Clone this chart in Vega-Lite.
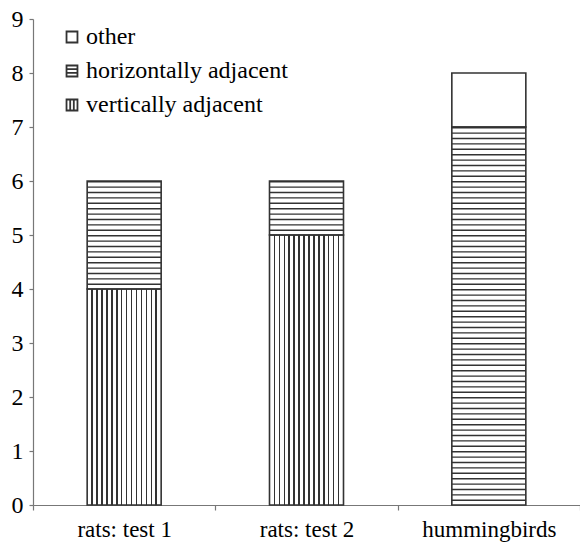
{
  "$schema": "https://vega.github.io/schema/vega-lite/v6.json",
  "width": 547,
  "height": 486,
  "autosize": "none",
  "padding": {"left": 33, "top": 19, "right": 0, "bottom": 38},
  "background": "white",
  "data": {
    "values": [
      {"group": "rats: test 1", "type": "vertically adjacent", "count": 4},
      {"group": "rats: test 1", "type": "horizontally adjacent", "count": 2},
      {"group": "rats: test 2", "type": "vertically adjacent", "count": 5},
      {"group": "rats: test 2", "type": "horizontally adjacent", "count": 1},
      {"group": "hummingbirds", "type": "horizontally adjacent", "count": 7},
      {"group": "hummingbirds", "type": "other", "count": 1}
    ]
  },
  "transform": [
    {"calculate": "indexof(['vertically adjacent','horizontally adjacent','other'], datum.type)", "as": "ord"},
    {"stack": "count", "groupby": ["group"], "sort": [{"field": "ord", "order": "ascending"}], "as": ["y0", "y1"]}
  ],
  "layer": [
    {
      "mark": {"type": "bar", "width": 74, "stroke": null},
      "encoding": {
        "x": {
          "field": "group", "type": "nominal", "sort": ["rats: test 1", "rats: test 2", "hummingbirds"],
          "scale": {"paddingInner": 0, "paddingOuter": 0},
          "axis": {"title": null, "labelAngle": 0, "tickBand": "extent", "tickSize": 5, "labelPadding": 8,
                   "labelFont": "Liberation Serif", "labelFontSize": 23, "labelColor": "black",
                   "domainColor": "#777", "tickColor": "#777", "domainWidth": 1.2, "tickWidth": 1.2}
        },
        "y": {
          "field": "y0", "type": "quantitative",
          "scale": {"domain": [0, 9], "nice": false},
          "axis": {"title": null, "values": [0,1,2,3,4,5,6,7,8,9], "format": "d", "grid": false, "tickSize": 4, "labelPadding": 6,
                   "labelFont": "Liberation Serif", "labelFontSize": 24, "labelColor": "black",
                   "domainColor": "#777", "tickColor": "#777", "domainWidth": 1.2, "tickWidth": 1.2}
        },
        "y2": {"field": "y1"},
        "fill": {
          "field": "type", "type": "nominal",
          "scale": {"domain": ["other", "horizontally adjacent", "vertically adjacent"], "range": ["white", "white", "white"]},
          "legend": {
            "title": null, "orient": "none", "legendX": 27, "legendY": 6,
            "labelFont": "Liberation Serif", "labelFontSize": 24, "labelColor": "black", "labelLimit": 400,
            "labelOffset": 2, "rowPadding": 10, "symbolSize": 120, "symbolStrokeWidth": 1.8, "symbolStrokeColor": "#333",
            "encode": {
              "labels": {"update": {"font": {"value": "Liberation Serif"}}},
              "symbols": {
                "update": {
                  "stroke": {"value": "#333"},
                  "strokeWidth": {"value": 1.8},
                  "shape": {"signal": "datum.value === 'other' ? 'square' : (datum.value === 'horizontally adjacent' ? 'M-1,-1H1V1H-1Z M-1,-0.33H1 M-1,0.33H1' : 'M-1,-1H1V1H-1Z M-0.33,-1V1 M0.33,-1V1')"}
                }
              }
            }
          }
        }
      }
    },
    {
      "transform": [{"filter": "datum.type === 'vertically adjacent'"}],
      "mark": {
        "type": "bar", "width": 74, "stroke": null,
        "fill": {
          "gradient": "linear", "x1": 0, "y1": 0, "x2": 1, "y2": 0,
          "stops": [
            {"offset": 0, "color": "#fff"},
            {"offset": 0.0567, "color": "#fff"}, {"offset": 0.0567, "color": "#333"}, {"offset": 0.0767, "color": "#333"}, {"offset": 0.0767, "color": "#fff"},
            {"offset": 0.1233, "color": "#fff"}, {"offset": 0.1233, "color": "#333"}, {"offset": 0.1433, "color": "#333"}, {"offset": 0.1433, "color": "#fff"},
            {"offset": 0.19, "color": "#fff"}, {"offset": 0.19, "color": "#333"}, {"offset": 0.21, "color": "#333"}, {"offset": 0.21, "color": "#fff"},
            {"offset": 0.2567, "color": "#fff"}, {"offset": 0.2567, "color": "#333"}, {"offset": 0.2767, "color": "#333"}, {"offset": 0.2767, "color": "#fff"},
            {"offset": 0.3233, "color": "#fff"}, {"offset": 0.3233, "color": "#333"}, {"offset": 0.3433, "color": "#333"}, {"offset": 0.3433, "color": "#fff"},
            {"offset": 0.39, "color": "#fff"}, {"offset": 0.39, "color": "#333"}, {"offset": 0.41, "color": "#333"}, {"offset": 0.41, "color": "#fff"},
            {"offset": 0.4567, "color": "#fff"}, {"offset": 0.4567, "color": "#333"}, {"offset": 0.4767, "color": "#333"}, {"offset": 0.4767, "color": "#fff"},
            {"offset": 0.5233, "color": "#fff"}, {"offset": 0.5233, "color": "#333"}, {"offset": 0.5433, "color": "#333"}, {"offset": 0.5433, "color": "#fff"},
            {"offset": 0.59, "color": "#fff"}, {"offset": 0.59, "color": "#333"}, {"offset": 0.61, "color": "#333"}, {"offset": 0.61, "color": "#fff"},
            {"offset": 0.6567, "color": "#fff"}, {"offset": 0.6567, "color": "#333"}, {"offset": 0.6767, "color": "#333"}, {"offset": 0.6767, "color": "#fff"},
            {"offset": 0.7233, "color": "#fff"}, {"offset": 0.7233, "color": "#333"}, {"offset": 0.7433, "color": "#333"}, {"offset": 0.7433, "color": "#fff"},
            {"offset": 0.79, "color": "#fff"}, {"offset": 0.79, "color": "#333"}, {"offset": 0.81, "color": "#333"}, {"offset": 0.81, "color": "#fff"},
            {"offset": 0.8567, "color": "#fff"}, {"offset": 0.8567, "color": "#333"}, {"offset": 0.8767, "color": "#333"}, {"offset": 0.8767, "color": "#fff"},
            {"offset": 0.9233, "color": "#fff"}, {"offset": 0.9233, "color": "#333"}, {"offset": 0.9433, "color": "#333"}, {"offset": 0.9433, "color": "#fff"},
            {"offset": 1, "color": "#fff"}
          ]
        }
      },
      "encoding": {
        "x": {"field": "group", "type": "nominal", "sort": ["rats: test 1", "rats: test 2", "hummingbirds"]},
        "y": {"field": "y0", "type": "quantitative"},
        "y2": {"field": "y1"}
      }
    },
    {
      "transform": [{"filter": "datum.type === 'horizontally adjacent'"}],
      "mark": {"type": "rule", "strokeWidth": 74, "strokeDash": [1.4, 4], "color": "#333", "strokeCap": "butt"},
      "encoding": {
        "x": {"field": "group", "type": "nominal", "sort": ["rats: test 1", "rats: test 2", "hummingbirds"]},
        "y": {"field": "y1", "type": "quantitative"},
        "y2": {"field": "y0"}
      }
    },
    {
      "mark": {"type": "bar", "width": 74, "fill": "transparent", "stroke": "#333", "strokeWidth": 1.6},
      "encoding": {
        "x": {"field": "group", "type": "nominal", "sort": ["rats: test 1", "rats: test 2", "hummingbirds"]},
        "y": {"field": "y0", "type": "quantitative"},
        "y2": {"field": "y1"}
      }
    }
  ],
  "config": {"view": {"stroke": null}, "legend": {"labelFont": "Liberation Serif"}}
}
